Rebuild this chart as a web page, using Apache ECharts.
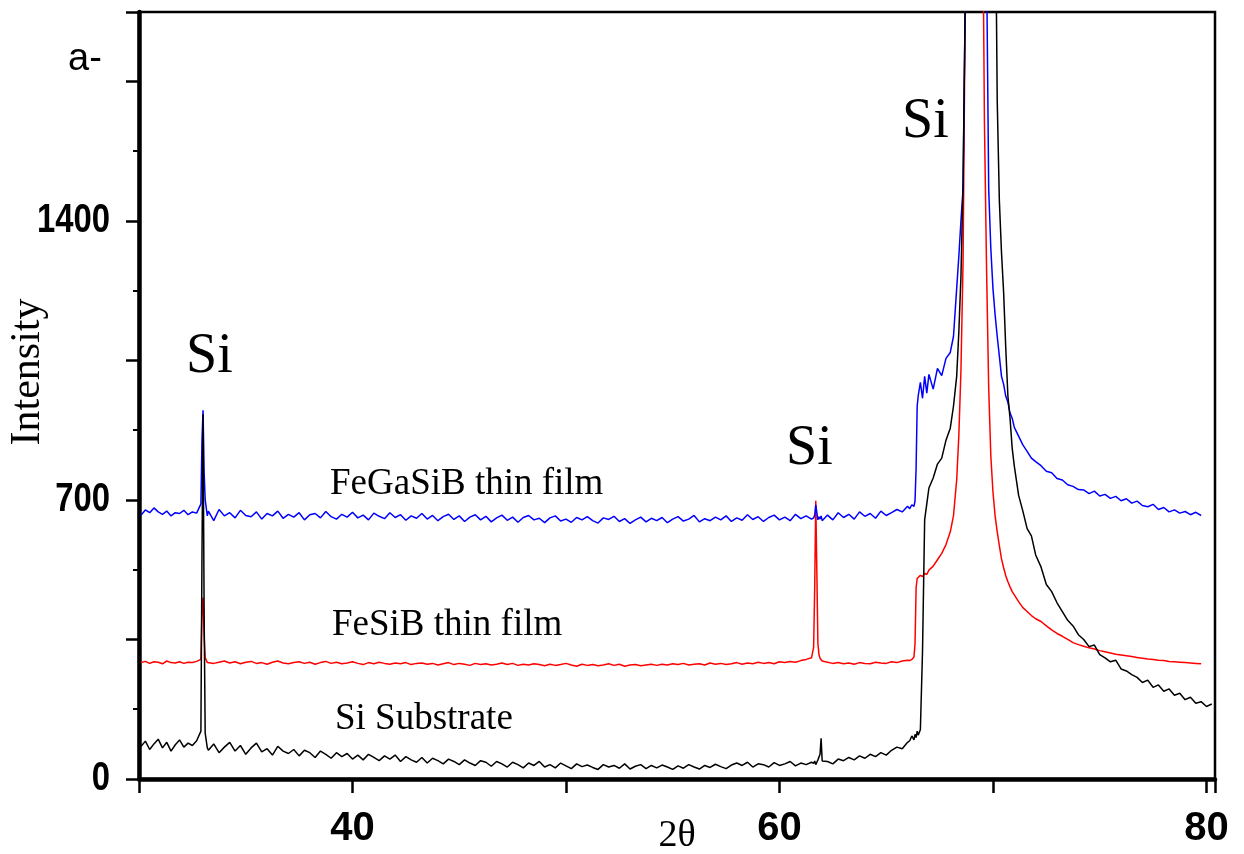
<!DOCTYPE html>
<html lang="en">
  <head>
    <meta charset="UTF-8" />
    <title>XRD</title>
    <script src="https://cdn.jsdelivr.net/npm/echarts@6/dist/echarts.min.js"></script>
    <style>
      html, body { margin: 0; padding: 0; background: #fff; }
      #main { width: 1244px; height: 854px; }
    </style>
  </head>

  <body>
    <div id="main"></div>

    <script>
      // 2theta grid (deg) - shared by the three scans
      var twoTheta = [
        30.1, 30.3, 30.5, 30.7, 30.9, 31.1, 31.3, 31.5, 31.7, 31.9, 32.1, 32.3, 32.5, 32.7,
        // Si near 33
        32.9, 32.95, 33.0, 33.05, 33.1, 33.2,
        // flat part
        33.25, 33.5, 33.75, 34, 34.25, 34.5, 34.75, 35, 35.25, 35.5, 35.75, 36,
        36.25, 36.5, 36.75, 37, 37.25, 37.5, 37.75, 38, 38.25, 38.5, 38.75, 39,
        39.25, 39.5, 39.75, 40, 40.25, 40.5, 40.75, 41, 41.25, 41.5, 41.75, 42,
        42.25, 42.5, 42.75, 43, 43.25, 43.5, 43.75, 44, 44.25, 44.5, 44.75, 45,
        45.25, 45.5, 45.75, 46, 46.25, 46.5, 46.75, 47, 47.25, 47.5, 47.75, 48,
        48.25, 48.5, 48.75, 49, 49.25, 49.5, 49.75, 50, 50.25, 50.5, 50.75, 51,
        51.25, 51.5, 51.75, 52, 52.25, 52.5, 52.75, 53, 53.25, 53.5, 53.75, 54,
        54.25, 54.5, 54.75, 55, 55.25, 55.5, 55.75, 56, 56.25, 56.5, 56.75, 57,
        57.25, 57.5, 57.75, 58, 58.25, 58.5, 58.75, 59, 59.25, 59.5, 59.75, 60,
        60.25, 60.5, 60.75, 61, 61.25, 61.5,
        // Si near 61.7
        61.6, 61.65, 61.7, 61.75, 61.8, 61.85, 61.9, 61.95, 62.0,
        62.25, 62.5, 62.75, 63, 63.25, 63.5, 63.75, 64, 64.25, 64.5, 64.75, 65,
        65.25, 65.5, 65.75, 66,
        // main Si peak
        66.1, 66.2, 66.3, 66.35, 66.4, 66.45, 66.5, 66.6, 66.7, 66.8, 66.9, 67.0,
        67.2, 67.4, 67.6, 67.8, 68.0, 68.15, 68.3, 68.4, 68.5, 68.6, 68.7, 68.8,
        69.0, 69.2, 69.4, 69.6, 69.7, 69.8, 69.9, 70.0, 70.1, 70.2, 70.3, 70.4,
        70.5, 70.6, 70.7, 70.8, 70.9, 71.0, 71.2, 71.4, 71.6, 71.8, 72.0, 72.25,
        72.5, 72.75, 73.0, 73.25, 73.5, 73.75, 74.0,
        // tail
        74.25, 74.5, 74.75, 75, 75.25, 75.5, 75.75, 76, 76.25, 76.5, 76.75, 77,
        77.25, 77.5, 77.75, 78, 78.25, 78.5, 78.75, 79, 79.25, 79.5, 79.75, 80, 80.25
      ];

      // FeGaSiB thin film (blue)
      var feGaSiB = [
        662, 675, 668, 680, 670, 664, 672, 660, 668, 666, 674, 663, 670, 667,
        690, 850, 925, 770, 700, 660,
        672, 648, 676, 660, 668, 655, 674, 661, 658, 670, 652, 666,
        660, 672, 654, 664, 657, 668, 650, 663, 666, 655, 671, 658,
        652, 664, 657, 669, 655, 662, 650, 667, 659, 653, 668, 656,
        663, 649, 660, 654, 666, 652, 661, 648, 658, 664, 651, 660,
        646, 657, 663, 650, 659, 645, 655, 662, 649, 657, 644, 656,
        661, 650, 654, 643, 655, 660, 647, 652, 644, 656, 650, 658,
        648, 642, 655, 651, 659, 646, 653, 641, 650, 657, 645, 654,
        648, 656, 643, 652, 658, 647, 652, 661, 645, 653, 648, 657,
        650, 660, 646, 655, 649, 663, 651, 658, 646, 656, 662, 650,
        657, 648, 664, 653, 660, 652,
        655, 662, 688, 668, 650, 658, 652, 660, 648,
        662, 650, 668, 656, 664, 652, 670, 659, 666, 654, 672, 661,
        668, 676, 670, 684,
        678, 688, 684, 698, 780, 935, 962, 995, 955, 1010, 968, 1015,
        978, 1030, 1012, 1055, 1070, 1110, 1230, 1310, 1400, 1480, 1950, 2600,
        3500, 4000, 3800, 2800, 2050, 1480, 1330, 1230, 1165, 1110, 1060, 1010,
        990, 960, 945, 918, 905, 882, 860, 838, 822, 805, 796, 786,
        772, 768, 754, 750, 738, 734, 726,
        725, 716, 722, 710, 714, 704, 709, 698, 703, 692, 697, 686,
        683, 689, 676, 681, 670, 675, 667, 671, 663, 669, 661, null, null
      ];

      // FeSiB thin film (red)
      var feSiB = [
        292, 295, 290, 294, 293, 289, 296, 292, 291, 294, 290, 293, 292, 295,
        300, 420, 455, 360, 305, 292,
        294, 290, 293, 296, 291, 294, 289, 293, 295, 290, 292, 288,
        293, 296, 291, 289, 292, 294, 290, 293, 288, 292, 295, 290,
        293, 289, 291, 294, 290, 287, 292, 289, 293, 290, 288, 291,
        289, 292, 287, 290, 291, 288, 290, 286, 289, 292, 287, 290,
        288, 285, 290, 287, 289, 286, 288, 291, 287, 290, 285, 288,
        286, 289, 287, 284, 288, 285, 287, 290, 286, 283, 288, 285,
        287, 284, 286, 289, 285, 288, 283, 286, 287, 284, 286, 288,
        285, 288, 286, 289, 287, 290, 286, 288, 289, 286, 291, 288,
        290, 287, 289, 292, 288, 291, 289, 293, 290, 292, 289, 294,
        292, 295, 293, 297, 300, 304,
        330, 480, 698, 520, 340, 312, 303, 298, 296,
        293, 290, 292, 289, 291, 288, 292, 290, 289, 293, 291, 290,
        294, 292, 296, 298,
        297, 300, 306, 340, 480, 503, 507, 511, 508, 516, 513, 524,
        534, 550, 566, 588, 620, 660, 750, 860, 1024, 1300, 1950, 2600,
        4000, 5000, 3000, 1650, 1280, 980, 810, 720, 660, 620, 585, 552,
        530, 510, 495, 482, 470, 462, 445, 430, 420, 410, 402, 395,
        384, 374, 365, 358, 350, 342, 337,
        333, 329, 326, 322, 319, 316, 313, 311, 309, 307, 305, 303,
        301, 300, 298, 297, 295, 294, 293, 292, 291, 290, 289, null, null
      ];

      // Si substrate (black)
      var substrate = [
        82, 95, 74, 88, 100, 78, 92, 70, 86, 98, 80, 90, 84, 96,
        120, 560, 915, 420, 115, 78,
        72, 88, 66, 80, 92, 70, 84, 62, 78, 90, 68, 76,
        60, 82, 70, 64, 74, 58, 72, 66, 54, 70, 62, 52,
        66, 56, 64, 50, 60, 48, 62, 54, 46, 58, 50, 60,
        44, 56, 48, 42, 54, 40, 52, 46, 38, 50, 44, 36,
        48, 40, 34, 46, 42, 32, 44, 38, 30, 42, 36, 28,
        40, 34, 44, 30, 36, 28, 40, 33, 26, 38, 31, 35,
        29, 24, 36, 30, 34, 27, 38, 25, 32, 36, 26, 34,
        28, 35, 30, 24, 33, 27, 36, 30, 25, 34, 29, 37,
        31, 26, 35, 40, 34, 42, 30, 38, 36, 30, 41, 34,
        38, 44, 33, 40, 36, 42,
        39, 45, 36, 42, 48, 44, 62, 102, 45,
        44, 38, 50, 46, 54, 48, 58, 52, 62, 56, 66, 60,
        72, 80, 76, 92,
        96, 108, 98, 112, 104, 120, 110, 124, 320, 650, 690, 730,
        755, 790, 805, 850, 880, 935, 1010, 1120, 1260, 1500, 1950, 2600,
        3500, 4500, 5000, 4500, 4000, 3500, 3000, 2600, 2300, 1700, 1450, 1320,
        1220, 1080, 960, 905, 830, 785, 712, 672, 628, 610, 562, 532,
        488, 470, 442, 420, 398, 384, 362,
        350, 332, 336, 312, 304, 294, 298, 276, 271, 262, 255, 242,
        248, 230, 236, 220, 226, 210, 215, 199, 205, 190, 194, 182, 188
      ];

      var xLabels = [40, 60, 80];
      var yLabels = [0, 700, 1400];

      function pairs(vals) {
        return twoTheta.map(function (t, i) {
          return [t, vals[i]];
        });
      }

      var serif = '"Liberation Serif", "Times New Roman", serif';
      var sans = '"Liberation Sans", Arial, sans-serif';

      function txt(text, x, y, size, family, align) {
        return {
          type: "text",
          x: x,
          y: y,
          style: {
            text: text,
            font: size + "px " + family,
            fill: "#000",
            textAlign: align || "left",
            textVerticalAlign: "middle",
          },
        };
      }

      var mCharts = echarts.init(document.getElementById("main"));
      var option = {
        animation: false,
        grid: {
          left: 139,
          right: 29,
          top: 12,
          bottom: 75,
          show: true,
          borderColor: "#000",
          borderWidth: 2.5,
        },
        xAxis: {
          type: "value",
          min: 30,
          max: 80.4,
          interval: 10,
          splitLine: { show: false },
          axisLine: { lineStyle: { color: "#000", width: 4.5 } },
          axisTick: { length: 14, lineStyle: { color: "#000", width: 2.5 } },
          axisLabel: {
            margin: 30,
            color: "#000",
            fontSize: 40,
            fontWeight: "bold",
            fontFamily: sans,
            formatter: function (v) {
              return xLabels.indexOf(v) >= 0 ? String(v) : "";
            },
          },
        },
        yAxis: {
          type: "value",
          min: 0,
          max: 1924,
          interval: 350,
          splitLine: { show: false },
          axisLine: { show: true, lineStyle: { color: "#000", width: 4.5 } },
          axisTick: { show: true, length: 13, lineStyle: { color: "#000", width: 2.5 } },
          minorTick: { show: true, splitNumber: 2, length: 6, lineStyle: { color: "#000", width: 2 } },
          // labels drawn below as narrowed text
          axisLabel: { show: false },
        },
        series: [
          {
            name: "FeSiB thin film",
            type: "line",
            data: pairs(feSiB),
            showSymbol: false,
            lineStyle: { color: "#ff0000", width: 1.5 },
          },
          {
            name: "FeGaSiB thin film",
            type: "line",
            data: pairs(feGaSiB),
            showSymbol: false,
            lineStyle: { color: "#0000ff", width: 1.5 },
          },
          {
            name: "Si Substrate",
            type: "line",
            data: pairs(substrate),
            showSymbol: false,
            lineStyle: { color: "#000000", width: 1.5 },
          },
        ],
        graphic: [
          txt("a-", 68, 60, 38, sans),
          txt("Si", 186, 357, 56, serif),
          txt("Si", 786, 449, 56, serif),
          txt("Si", 902, 122, 56, serif),
          txt("FeGaSiB thin film", 330, 484, 37, serif),
          txt("FeSiB thin film", 332, 625, 37, serif),
          txt("Si Substrate", 335, 719, 37, serif),
          txt("2\u03b8", 677, 836, 38, serif, "center"),
          {
            type: "text",
            x: 28,
            y: 372,
            rotation: Math.PI / 2,
            style: {
              text: "Intensity",
              font: "42px " + serif,
              fill: "#000",
              textAlign: "center",
              textVerticalAlign: "middle",
            },
          },
        ],
      };
      if (feGaSiB.length !== twoTheta.length || feSiB.length !== twoTheta.length || substrate.length !== twoTheta.length) {
        option.graphic.push(
          txt("LEN " + twoTheta.length + " " + feGaSiB.length + " " + feSiB.length + " " + substrate.length, 600, 300, 30, "sans-serif")
        );
      }
      mCharts.setOption(option);

      // y tick labels: condensed bold digits placed at the axis' own positions
      var axisX = mCharts.convertToPixel({ xAxisIndex: 0 }, 30);
      yLabels.forEach(function (v) {
        var py = mCharts.convertToPixel({ yAxisIndex: 0 }, v);
        option.graphic.push({
          type: "text",
          x: axisX - 29,
          y: py,
          scaleX: 0.82,
          style: {
            text: String(v),
            font: "bold 40px " + sans,
            fill: "#000",
            textAlign: "right",
            textVerticalAlign: "middle",
          },
        });
      });
      mCharts.setOption({ graphic: option.graphic });
    </script>
  </body>
</html>
